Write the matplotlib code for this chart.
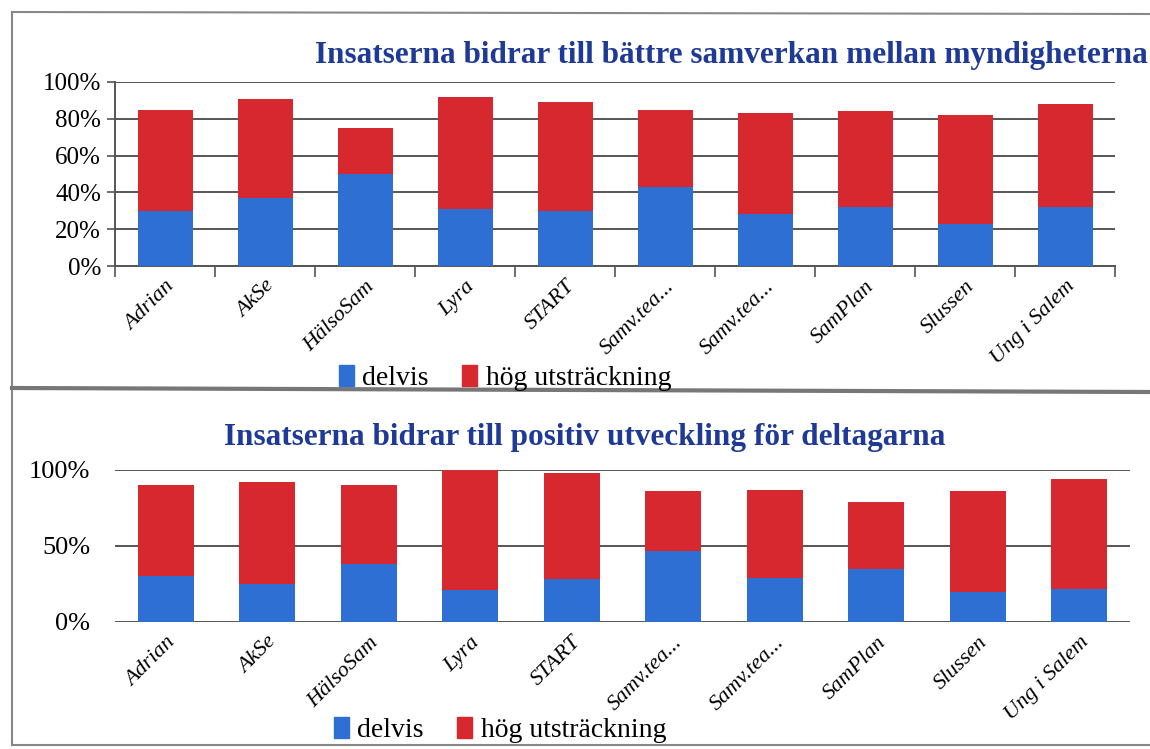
import matplotlib
matplotlib.use("Agg")
import matplotlib.pyplot as plt
import numpy as np
from matplotlib.patches import Patch
from matplotlib.lines import Line2D

categories = ["Adrian", "AkSe", "HälsoSam", "Lyra", "START", "Samv.tea...",
              "Samv.tea...", "SamPlan", "Slussen", "Ung i Salem"]

# Chart 1: Insatserna bidrar till bättre samverkan mellan myndigheterna
top_delvis = [30, 37, 50, 31, 30, 43, 28, 32, 23, 32]
top_hog = [55, 54, 25, 61, 59, 42, 55, 52, 59, 56]
top_ticks = [0, 20, 40, 60, 80, 100]
top_title = "Insatserna bidrar till bättre samverkan mellan myndigheterna"

# Chart 2: Insatserna bidrar till positiv utveckling för deltagarna
bot_delvis = [30, 25, 38, 21, 28, 47, 29, 35, 20, 22]
bot_hog = [60, 67, 52, 79, 70, 39, 58, 44, 66, 72]
bot_ticks = [0, 50, 100]
bot_title = "Insatserna bidrar till positiv utveckling för deltagarna"

series_names = ["delvis", "hög utsträckning"]

BLUE = "#2E6FD3"
RED = "#D8282F"
TITLE_C = "#1F3A96"
GRID_C = "#555555"
FONT = "Liberation Serif"

W, H = 1150, 749
fig = plt.figure(figsize=(W / 100, H / 100), dpi=100)
fig.patch.set_facecolor("white")


def px(x0, y0, x1, y1):
    return [x0 / W, 1 - y1 / H, (x1 - x0) / W, (y1 - y0) / H]


def draw(ax, delvis, hog, ticks, ylabels_size, framed):
    x = np.arange(len(categories))
    ax.bar(x, delvis, width=0.55, color=BLUE, zorder=3)
    ax.bar(x, hog, width=0.55, bottom=delvis, color=RED, zorder=3)
    ax.set_xlim(-0.5, len(categories) - 0.5)
    ax.set_ylim(0, 100)
    ax.set_yticks(ticks)
    ax.set_yticklabels([f"{t}%" for t in ticks], fontsize=ylabels_size, family=FONT)
    ax.set_xticks(x)
    ax.set_xticklabels(categories, rotation=45, ha="right", rotation_mode="anchor",
                       fontsize=16, family=FONT, style="italic")
    ax.yaxis.grid(True, color=GRID_C, linewidth=1.4, zorder=0)
    ax.set_axisbelow(True)
    for s in ["top", "right"]:
        ax.spines[s].set_visible(False)
    if framed:
        ax.spines["left"].set_color(GRID_C)
        ax.spines["left"].set_linewidth(1.4)
        ax.spines["bottom"].set_color(GRID_C)
        ax.spines["bottom"].set_linewidth(1.4)
        ax.set_xticks(np.arange(len(categories) + 1) - 0.5, minor=True)
        ax.tick_params(axis="x", which="minor", length=8, width=1.2, color=GRID_C)
        ax.tick_params(axis="x", which="major", length=0, pad=8)
        ax.tick_params(axis="y", length=6, width=1.2, color=GRID_C, pad=4)
    else:
        ax.spines["left"].set_visible(False)
        ax.spines["bottom"].set_visible(False)
        ax.tick_params(axis="x", length=0, pad=8)
        ax.tick_params(axis="y", length=0, pad=18)


ax1 = fig.add_axes(px(115, 82, 1115, 266))
draw(ax1, top_delvis, top_hog, top_ticks, 18, True)
fig.text(315 / W, 1 - 55 / H, top_title, ha="left", va="center",
         fontsize=22.5, fontweight="bold", color=TITLE_C, family=FONT)

ax2 = fig.add_axes(px(115, 470, 1130, 622))
draw(ax2, bot_delvis, bot_hog, bot_ticks, 19, False)
fig.text(585 / W, 1 - 438 / H, bot_title, ha="center", va="center",
         fontsize=22.5, fontweight="bold", color=TITLE_C, family=FONT)

handles = [Patch(color=BLUE), Patch(color=RED)]
for ycen, xc in [(378, 505), (730, 500)]:
    fig.legend(handles, series_names, loc="center", bbox_to_anchor=(xc / W, 1 - ycen / H),
               ncol=2, frameon=False, handlelength=0.55, handleheight=0.8,
               handletextpad=0.3, columnspacing=1.2, borderpad=0,
               prop={"family": FONT, "size": 20})

# scanned page frame lines
fig.add_artist(Line2D([12 / W, 1], [1 - 12 / H, 1 - 14 / H], color="#888888", lw=1.5))
fig.add_artist(Line2D([12 / W, 12 / W], [1 - 12 / H, 1 - 745 / H], color="#888888", lw=1.5))
fig.add_artist(Line2D([12 / W, 1], [1 - 388 / H, 1 - 392 / H], color="#777777", lw=3))
fig.add_artist(Line2D([12 / W, 1], [1 - 745 / H, 1 - 745 / H], color="#888888", lw=1.5))

fig.savefig("out.png", dpi=100)
